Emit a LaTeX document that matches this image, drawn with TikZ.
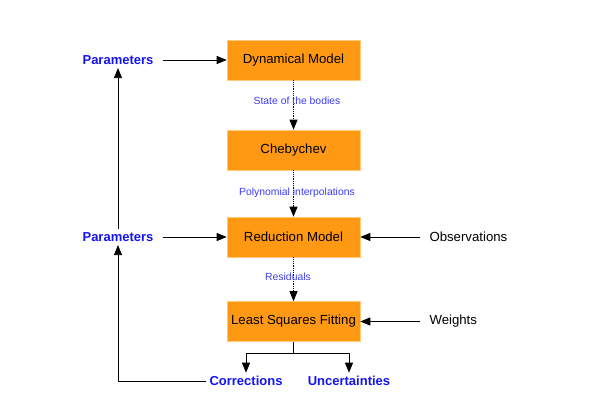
\documentclass[tikz,border=0pt]{standalone}
\usepackage{fontspec}
\setmainfont{Liberation Sans}
\usetikzlibrary{arrows.meta}
\definecolor{boxorange}{HTML}{FF9914}
\definecolor{boxedge}{HTML}{FFC97A}
\definecolor{quantblue}{HTML}{1414F0}
\definecolor{flowblue}{HTML}{3C3CF5}
\tikzset{
  every picture/.style={line join=round},
  % the four processing stages
  stage/.style={fill=boxorange, draw=boxedge, line width=0.6pt,
    minimum width=133pt, minimum height=40pt, inner sep=0pt,
    font=\fontsize{13.2}{15}\selectfont},
  quantity/.style={text=quantblue, font=\fontsize{13}{15}\selectfont\bfseries},
  input/.style={font=\fontsize{13.2}{15}\selectfont},
  flowlabel/.style={text=flowblue, font=\fontsize{10.4}{12}\selectfont},
  link/.style={-{Triangle[length=10pt,width=8pt]}, line width=0.8pt},
  datalink/.style={link, densely dotted},
}

\begin{document}
\begin{tikzpicture}[x=1pt, y=-1pt]
    \useasboundingbox (0,0) rectangle (589,400);

    % Stages
    \node[stage] (dynmodel) at (293.5,60)  {Dynamical Model};
    \node[stage] (cheby)    at (293.5,150) {Chebychev};
    \node[stage] (redmodel) at (293.5,237) {Reduction Model};
    \node[stage] (lsqfit)   at (293.5,321.5) {Least Squares Fitting};

    % Quantities and inputs
    \node[quantity] (paramtop) at (118,60)  {Parameters};
    \node[quantity] (parammid) at (118,237) {Parameters};
    \node[input, anchor=west] (observ)  at (426,237) {Observations};
    \node[input, anchor=west] (weights) at (426,321.5) {Weights};
    \node[quantity] (correct) at (246,381) {Corrections};
    \node[quantity] (uncert)  at (349,381) {Uncertainties};

    % Data flowing down the chain
    \draw[datalink] (dynmodel) -- (cheby);
    \draw[datalink] (cheby) -- (redmodel);
    \draw[datalink] (redmodel) -- (lsqfit);
    \node[flowlabel] (statelbl)  at (297,101) {State of the bodies};
    \node[flowlabel] (polylbl)   at (297,193) {Polynomial interpolations};
    \node[flowlabel] (residlbl)  at (288,277) {Residuals};

    % Inputs into the stages
    \draw[link] (paramtop.east) ++(6,0) -- (dynmodel.west);
    \draw[link] (parammid.east) ++(6,0) -- (redmodel.west);
    \draw[link] (observ.west) ++(-6,0) -- (redmodel.east);
    \draw[link] (weights.west) ++(-6,0) -- (lsqfit.east);

    % Outputs of the fit
    \coordinate (split) at (293.5,353);
    \draw[line width=0.8pt] (lsqfit.south) -- (split);
    \draw[link] (split) -| (correct.north);
    \draw[link] (split) -| (uncert.north);

    % Feedback loop
    \draw[link] (correct.west) -| (parammid.south);
    \draw[link] (parammid.north) -- (paramtop.south);
\end{tikzpicture}
\end{document}
